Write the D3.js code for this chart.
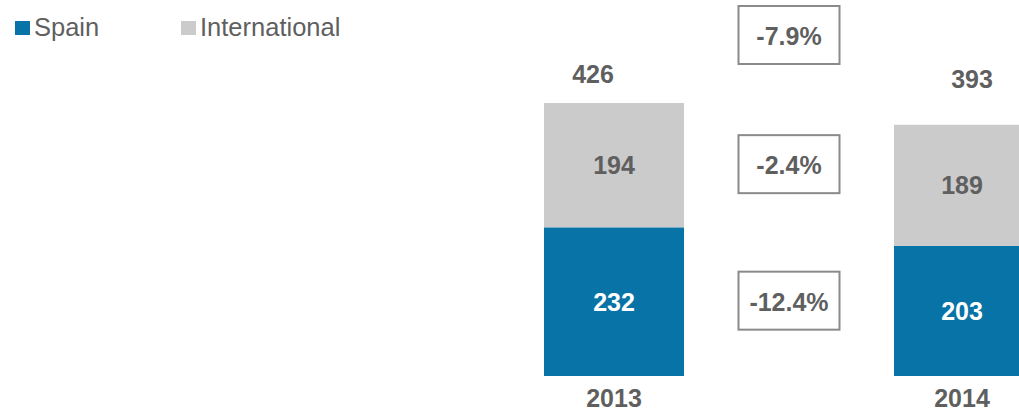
<!DOCTYPE html>
<html>
<head>
<meta charset="utf-8">
<script src="https://cdn.jsdelivr.net/npm/d3@7"></script>
<style>
  html, body { margin: 0; padding: 0; background: #fff; }
  svg { display: block; font-family: "Liberation Sans", Arial, sans-serif; }
</style>
</head>
<body>
<svg id="chart" width="1019" height="419"></svg>
<script>
// Revenue split by market, two years
const years = ["2013", "2014"];
const spain = [232, 203];
const international = [194, 189];
const totals = [426, 393];
const seriesNames = ["Spain", "International"];
// year-on-year change: total, international, Spain
const changeLabels = ["-7.9%", "-2.4%", "-12.4%"];

const colors = { Spain: "#0773A6", International: "#CBCBCB" };
const textGrey = "#5F5F5F";
const fontSize = 25;

const svg = d3.select("#chart");

const x = d3.scaleBand().domain(years).range([544, 1034]).paddingInner(0.6).paddingOuter(0);
const y = d3.scaleLinear().domain([0, 426]).range([376, 103]);

const rows = years.map((yr, i) => ({ year: yr, Spain: spain[i], International: international[i], total: totals[i] }));
const stack = d3.stack().keys(seriesNames)(rows);

// stacked bars
const layers = svg.append("g").selectAll("g")
  .data(stack).join("g")
  .attr("fill", d => colors[d.key]);

layers.selectAll("rect")
  .data(d => d.map(p => ({ key: d.key, p })))
  .join("rect")
  .attr("x", d => x(d.p.data.year))
  .attr("width", x.bandwidth())
  .attr("y", d => y(d.p[1]))
  .attr("height", d => y(d.p[0]) - y(d.p[1]));

// values inside segments
const labelShift = [0, -2];
layers.selectAll("text")
  .data(d => d.map((p, i) => ({ key: d.key, p, i })))
  .join("text")
  .attr("x", d => x(d.p.data.year) + x.bandwidth() / 2 + labelShift[d.i])
  .attr("y", d => (y(d.p[0]) + y(d.p[1])) / 2 + 9)
  .attr("text-anchor", "middle")
  .attr("font-size", fontSize)
  .attr("font-weight", "bold")
  .attr("fill", d => d.key === "Spain" ? "#fff" : textGrey)
  .text(d => d.p[1] - d.p[0]);

// totals above bars
const totalDx = [-21, 8];
const totalDy = [-20, -36];
svg.append("g").selectAll("text")
  .data(rows).join("text")
  .attr("x", (d, i) => x(d.year) + x.bandwidth() / 2 + totalDx[i])
  .attr("y", (d, i) => y(d.total) + totalDy[i])
  .attr("text-anchor", "middle")
  .attr("font-size", fontSize)
  .attr("font-weight", "bold")
  .attr("fill", textGrey)
  .text(d => d.total);

// year labels
svg.append("g").selectAll("text")
  .data(years).join("text")
  .attr("x", (d, i) => x(d) + x.bandwidth() / 2 + labelShift[i])
  .attr("y", 407)
  .attr("text-anchor", "middle")
  .attr("font-size", fontSize)
  .attr("font-weight", "bold")
  .attr("fill", textGrey)
  .text(d => d);

// change boxes between the bars
const boxCx = 789, boxW = 101, boxH = 58;
const boxCy = [35, (y(426) + y(232)) / 2 - 1, (y(232) + y(0)) / 2 - 1];
const boxes = svg.append("g").selectAll("g")
  .data(changeLabels).join("g")
  .attr("transform", (d, i) => `translate(${boxCx},${boxCy[i]})`);
boxes.append("rect")
  .attr("x", -boxW / 2).attr("y", -boxH / 2)
  .attr("width", boxW).attr("height", boxH)
  .attr("fill", "#fff")
  .attr("stroke", "#8A8A8A")
  .attr("stroke-width", 2);
boxes.append("text")
  .attr("y", 10)
  .attr("text-anchor", "middle")
  .attr("font-size", fontSize)
  .attr("font-weight", "bold")
  .attr("fill", textGrey)
  .text(d => d);

// legend
const legendX = [15, 181];
const legend = svg.append("g").selectAll("g")
  .data(seriesNames).join("g")
  .attr("transform", (d, i) => `translate(${legendX[i]},21)`);
legend.append("rect")
  .attr("width", 15).attr("height", 14)
  .attr("fill", d => colors[d]);
legend.append("text")
  .attr("x", 19).attr("y", 15)
  .attr("font-size", 25.5)
  .attr("fill", textGrey)
  .text(d => d);
</script>
</body>
</html>
